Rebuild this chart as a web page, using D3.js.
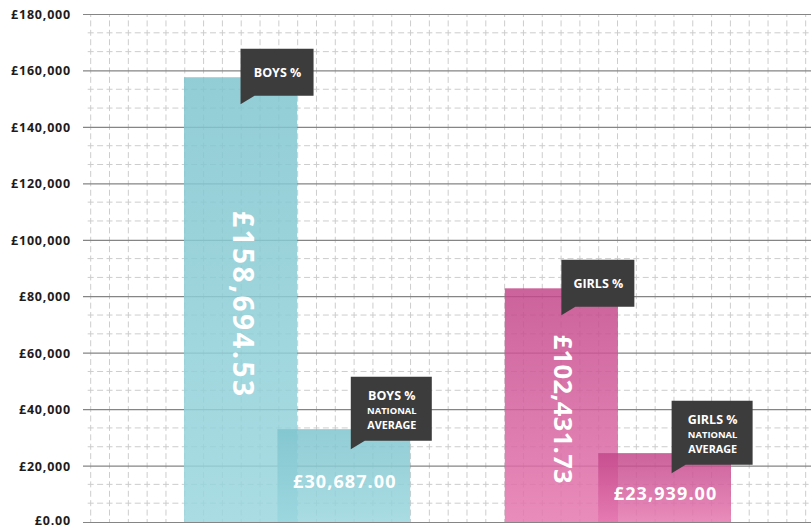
<!DOCTYPE html>
<html><head><meta charset="utf-8">
<script src="https://cdn.jsdelivr.net/npm/d3@7"></script>
<style>
html,body{margin:0;padding:0;background:#fff;}
svg{display:block;font-family:"Open Sans","Noto Sans",sans-serif;}
</style></head>
<body><svg id="chart" width="811" height="528"></svg>
<script>
// ---- data ----
const groups = ["Boys", "Girls"];
const seriesNames = ["School", "National average"];
const boysValues = [157600, 32900];     // bar heights as drawn
const girlsValues = [82800, 24400];
const boysLabels = ["£158,694.53", "£30,687.00"];
const girlsLabels = ["£102,431.73", "£23,939.00"];
const boysCallouts = [["BOYS %"], ["BOYS %", "NATIONAL", "AVERAGE"]];
const girlsCallouts = [["GIRLS %"], ["GIRLS %", "NATIONAL", "AVERAGE"]];
const yTicks = [0, 20000, 40000, 60000, 80000, 100000, 120000, 140000, 160000, 180000];
const yTickLabels = ["£0.00", "£20,000", "£40,000", "£60,000", "£80,000", "£100,000", "£120,000", "£140,000", "£160,000", "£180,000"];

// ---- layout ----
const W = 811, H = 528, mLeft = 83, mRight = 811, mTop = 14, mBottom = 522;
const svg = d3.select("#chart");
const y = d3.scaleLinear().domain([0, 180000]).range([mBottom, mTop]);
const x = d3.scaleBand().domain(groups).range([184, 731]).paddingInner(0.295).paddingOuter(0);
// sub-positions inside each group band (fraction of band width)
const sub = d3.scaleOrdinal().domain(seriesNames).range([[0, 0.5], [0.413, 1]]);

const data = [];
groups.forEach((g, gi) => {
  const vals = gi === 0 ? boysValues : girlsValues;
  const labs = gi === 0 ? boysLabels : girlsLabels;
  const calls = gi === 0 ? boysCallouts : girlsCallouts;
  seriesNames.forEach((s, si) => data.push({group: g, series: s, value: vals[si], label: labs[si], callout: calls[si], gi, si}));
});
const bx0 = d => x(d.group) + sub(d.series)[0] * x.bandwidth();
const bx1 = d => x(d.group) + sub(d.series)[1] * x.bandwidth();

// ---- gradients ----
const defs = svg.append("defs");
const grads = [["boys", "#7fc4ce", "#9ad6de"], ["girls", "#c3478a", "#e577af"]];
grads.forEach(([id, c0, c1]) => {
  const lg = defs.append("linearGradient").attr("id", "g-" + id).attr("x1", 0).attr("y1", 0).attr("x2", 0).attr("y2", 1);
  lg.append("stop").attr("offset", "0%").attr("stop-color", c0);
  lg.append("stop").attr("offset", "100%").attr("stop-color", c1);
});

// ---- minor dashed grid ----
const cell = y(0) - y(20000 / 3);
const gridX0 = 90.7;
const vxs = d3.range(gridX0, mRight + 1, cell);
const grid = svg.append("g").attr("stroke", "#cdcdcd").attr("stroke-width", 1).attr("fill", "none");
grid.selectAll("line.v").data(vxs).join("line").attr("class", "v")
  .attr("x1", d => d).attr("x2", d => d).attr("y1", mTop).attr("y2", mBottom)
  .attr("stroke-dasharray", `6,${cell / 2 - 6}`).attr("stroke-dashoffset", 3);
const minorVals = d3.range(1, 27).filter(k => k % 3 !== 0).map(k => k * 20000 / 3);
grid.selectAll("line.h").data(minorVals).join("line").attr("class", "h")
  .attr("x1", gridX0 - 3).attr("x2", mRight).attr("y1", d => y(d)).attr("y2", d => y(d))
  .attr("stroke-dasharray", `6,${cell / 2 - 6}`);

// ---- major grid ----
const major = svg.append("g").attr("transform", `translate(${mLeft},0)`)
  .call(d3.axisLeft(y).tickValues(yTicks).tickSize(-(mRight - mLeft)).tickFormat(""));
major.select(".domain").remove();
major.selectAll("line").attr("stroke", "#858585").attr("stroke-width", 1.2);

// ---- y labels ----
const yax = svg.append("g").attr("transform", `translate(${mLeft},0)`)
  .call(d3.axisLeft(y).tickValues(yTicks).tickSize(0).tickPadding(12).tickFormat((d, i) => yTickLabels[i]));
yax.select(".domain").remove();
yax.selectAll("text").attr("font-family", "'Open Sans', sans-serif").attr("font-size", 12.5)
  .attr("font-weight", 700).attr("fill", "#1f1b1c").attr("letter-spacing", 0.8)
  .attr("dy", d => d === 0 ? "0.2em" : "0.36em");

// ---- bars ----
svg.append("g").selectAll("rect").data(data).join("rect")
  .attr("x", bx0).attr("width", d => bx1(d) - bx0(d))
  .attr("y", d => y(d.value)).attr("height", d => y(0) - y(d.value))
  .attr("fill", d => d.gi === 0 ? "url(#g-boys)" : "url(#g-girls)")
  .attr("opacity", 0.85);

// ---- value labels ----
const labels = svg.append("g").attr("fill", "#fff").attr("font-family", "'Open Sans', sans-serif").attr("font-weight", 700);
const mainBars = data.filter(d => d.si === 0);
const rotLen = [185, 149], rotSize = [28, 25.5];
labels.selectAll("text.rot").data(mainBars).join("text").attr("class", "rot")
  .attr("transform", d => `translate(${(bx0(d) + bx1(d)) / 2 + 2},${(y(d.value) + y(0)) / 2 + 4}) rotate(90)`)
  .attr("text-anchor", "middle").attr("dy", "0.35em")
  .attr("font-size", d => rotSize[d.gi])
  .attr("textLength", d => rotLen[d.gi]).attr("lengthAdjust", "spacing")
  .text(d => d.label);
const natBars = data.filter(d => d.si === 1);
labels.selectAll("text.nat").data(natBars).join("text").attr("class", "nat")
  .attr("x", d => (bx0(d) + bx1(d)) / 2 + 1)
  .attr("y", d => (y(d.value) + y(0)) / 2 + 12)
  .attr("text-anchor", "middle").attr("font-size", 18).attr("letter-spacing", 1.1)
  .text(d => d.label);

// ---- callouts ----
const co = svg.append("g");
data.forEach(d => {
  const xc = (bx0(d) + bx1(d)) / 2;
  const isMain = d.si === 0;
  const w = isMain ? 73 : 81, h = isMain ? 47 : 64;
  const L = isMain ? xc : xc + 7;
  const tip = y(d.value) + (isMain ? 27 : 20);
  const B = tip - 8.5, T = B - h;
  const g = co.append("g");
  g.append("path").attr("fill", "#3c3c3c")
    .attr("d", `M${L},${T}H${L + w}V${B}H${L + 14}L${L},${tip}Z`);
  const cx = L + w / 2 + 0.5;
  if (isMain) {
    g.append("text").attr("x", cx).attr("y", T + 28).attr("text-anchor", "middle")
      .attr("fill", "#fff").attr("font-weight", 700).attr("font-size", 12.5).text(d.callout[0]);
  } else {
    const ys = [T + 23.5, T + 37.5, T + 52.5], fs = [12.5, 9.4, 10.8];
    d.callout.forEach((t, i) => g.append("text").attr("x", cx).attr("y", ys[i]).attr("text-anchor", "middle")
      .attr("fill", "#fff").attr("font-weight", 700).attr("font-size", fs[i]).text(t));
  }
});
</script></body></html>
